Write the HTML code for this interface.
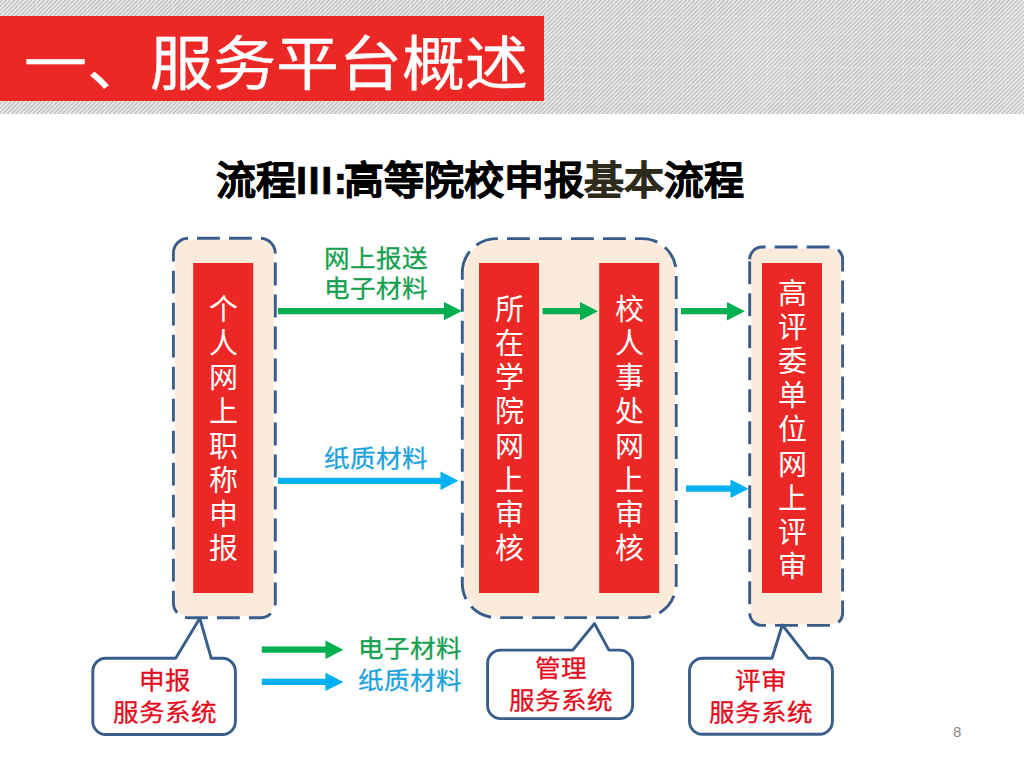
<!DOCTYPE html>
<html lang="zh-CN">
<head>
<meta charset="utf-8">
<style>
html,body{margin:0;padding:0;}
body{width:1024px;height:768px;position:relative;overflow:hidden;background:#fff;font-family:"Liberation Sans",sans-serif;}
.abs{position:absolute;}
#tbox{left:0;top:16px;width:544px;height:85px;background:#ec2826;}
#ttl{left:24px;top:26.5px;font-size:63px;line-height:80px;color:#fff;-webkit-text-stroke:0.4px #fff;white-space:nowrap;transform:scaleY(0.94);transform-origin:0 0;}
#sub{left:216px;-webkit-text-stroke:0.7px #000;transform:scaleY(0.96);transform-origin:0 48px;top:150px;font-size:40px;line-height:60px;font-weight:900;color:#000;white-space:nowrap;}
#sub .b{color:#2e2a1c;-webkit-text-stroke:0.7px #2e2a1c;}
#sub .i{letter-spacing:1.5px;}
#sub .c{letter-spacing:-3.5px;}
svg{position:absolute;left:0;top:0;}
.vt{position:absolute;top:263px;width:60px;height:330px;display:flex;flex-direction:column;justify-content:center;align-items:center;color:#fff;font-size:29px;padding-top:3px;box-sizing:border-box;}
.vt span{display:block;height:34.2px;line-height:34.2px;text-align:center;}
.lbl{position:absolute;-webkit-text-stroke:0.3px currentColor;font-size:25.6px;line-height:32.2px;transform:scaleY(0.93);transform-origin:0 0;white-space:nowrap;text-align:center;}
.g{color:#14a04e;}
.bl{color:#1ba2dc;}
.r{color:#e20c1c;line-height:34.2px;}
#pg{left:953px;top:723px;font-size:15px;color:#8a8a8a;}
</style>
</head>
<body>
<svg id="hdrsvg" width="1024" height="114" style="position:absolute;left:0;top:0"><rect width="1024" height="114" fill="#eaeaea"/><path d="M-124.75 114L-10.75 0M-120.50 114L-6.50 0M-116.25 114L-2.25 0M-112.00 114L2.00 0M-107.75 114L6.25 0M-103.50 114L10.50 0M-99.25 114L14.75 0M-95.00 114L19.00 0M-90.75 114L23.25 0M-86.50 114L27.50 0M-82.25 114L31.75 0M-78.00 114L36.00 0M-73.75 114L40.25 0M-69.50 114L44.50 0M-65.25 114L48.75 0M-61.00 114L53.00 0M-56.75 114L57.25 0M-52.50 114L61.50 0M-48.25 114L65.75 0M-44.00 114L70.00 0M-39.75 114L74.25 0M-35.50 114L78.50 0M-31.25 114L82.75 0M-27.00 114L87.00 0M-22.75 114L91.25 0M-18.50 114L95.50 0M-14.25 114L99.75 0M-10.00 114L104.00 0M-5.75 114L108.25 0M-1.50 114L112.50 0M2.75 114L116.75 0M7.00 114L121.00 0M11.25 114L125.25 0M15.50 114L129.50 0M19.75 114L133.75 0M24.00 114L138.00 0M28.25 114L142.25 0M32.50 114L146.50 0M36.75 114L150.75 0M41.00 114L155.00 0M45.25 114L159.25 0M49.50 114L163.50 0M53.75 114L167.75 0M58.00 114L172.00 0M62.25 114L176.25 0M66.50 114L180.50 0M70.75 114L184.75 0M75.00 114L189.00 0M79.25 114L193.25 0M83.50 114L197.50 0M87.75 114L201.75 0M92.00 114L206.00 0M96.25 114L210.25 0M100.50 114L214.50 0M104.75 114L218.75 0M109.00 114L223.00 0M113.25 114L227.25 0M117.50 114L231.50 0M121.75 114L235.75 0M126.00 114L240.00 0M130.25 114L244.25 0M134.50 114L248.50 0M138.75 114L252.75 0M143.00 114L257.00 0M147.25 114L261.25 0M151.50 114L265.50 0M155.75 114L269.75 0M160.00 114L274.00 0M164.25 114L278.25 0M168.50 114L282.50 0M172.75 114L286.75 0M177.00 114L291.00 0M181.25 114L295.25 0M185.50 114L299.50 0M189.75 114L303.75 0M194.00 114L308.00 0M198.25 114L312.25 0M202.50 114L316.50 0M206.75 114L320.75 0M211.00 114L325.00 0M215.25 114L329.25 0M219.50 114L333.50 0M223.75 114L337.75 0M228.00 114L342.00 0M232.25 114L346.25 0M236.50 114L350.50 0M240.75 114L354.75 0M245.00 114L359.00 0M249.25 114L363.25 0M253.50 114L367.50 0M257.75 114L371.75 0M262.00 114L376.00 0M266.25 114L380.25 0M270.50 114L384.50 0M274.75 114L388.75 0M279.00 114L393.00 0M283.25 114L397.25 0M287.50 114L401.50 0M291.75 114L405.75 0M296.00 114L410.00 0M300.25 114L414.25 0M304.50 114L418.50 0M308.75 114L422.75 0M313.00 114L427.00 0M317.25 114L431.25 0M321.50 114L435.50 0M325.75 114L439.75 0M330.00 114L444.00 0M334.25 114L448.25 0M338.50 114L452.50 0M342.75 114L456.75 0M347.00 114L461.00 0M351.25 114L465.25 0M355.50 114L469.50 0M359.75 114L473.75 0M364.00 114L478.00 0M368.25 114L482.25 0M372.50 114L486.50 0M376.75 114L490.75 0M381.00 114L495.00 0M385.25 114L499.25 0M389.50 114L503.50 0M393.75 114L507.75 0M398.00 114L512.00 0M402.25 114L516.25 0M406.50 114L520.50 0M410.75 114L524.75 0M415.00 114L529.00 0M419.25 114L533.25 0M423.50 114L537.50 0M427.75 114L541.75 0M432.00 114L546.00 0M436.25 114L550.25 0M440.50 114L554.50 0M444.75 114L558.75 0M449.00 114L563.00 0M453.25 114L567.25 0M457.50 114L571.50 0M461.75 114L575.75 0M466.00 114L580.00 0M470.25 114L584.25 0M474.50 114L588.50 0M478.75 114L592.75 0M483.00 114L597.00 0M487.25 114L601.25 0M491.50 114L605.50 0M495.75 114L609.75 0M500.00 114L614.00 0M504.25 114L618.25 0M508.50 114L622.50 0M512.75 114L626.75 0M517.00 114L631.00 0M521.25 114L635.25 0M525.50 114L639.50 0M529.75 114L643.75 0M534.00 114L648.00 0M538.25 114L652.25 0M542.50 114L656.50 0M546.75 114L660.75 0M551.00 114L665.00 0M555.25 114L669.25 0M559.50 114L673.50 0M563.75 114L677.75 0M568.00 114L682.00 0M572.25 114L686.25 0M576.50 114L690.50 0M580.75 114L694.75 0M585.00 114L699.00 0M589.25 114L703.25 0M593.50 114L707.50 0M597.75 114L711.75 0M602.00 114L716.00 0M606.25 114L720.25 0M610.50 114L724.50 0M614.75 114L728.75 0M619.00 114L733.00 0M623.25 114L737.25 0M627.50 114L741.50 0M631.75 114L745.75 0M636.00 114L750.00 0M640.25 114L754.25 0M644.50 114L758.50 0M648.75 114L762.75 0M653.00 114L767.00 0M657.25 114L771.25 0M661.50 114L775.50 0M665.75 114L779.75 0M670.00 114L784.00 0M674.25 114L788.25 0M678.50 114L792.50 0M682.75 114L796.75 0M687.00 114L801.00 0M691.25 114L805.25 0M695.50 114L809.50 0M699.75 114L813.75 0M704.00 114L818.00 0M708.25 114L822.25 0M712.50 114L826.50 0M716.75 114L830.75 0M721.00 114L835.00 0M725.25 114L839.25 0M729.50 114L843.50 0M733.75 114L847.75 0M738.00 114L852.00 0M742.25 114L856.25 0M746.50 114L860.50 0M750.75 114L864.75 0M755.00 114L869.00 0M759.25 114L873.25 0M763.50 114L877.50 0M767.75 114L881.75 0M772.00 114L886.00 0M776.25 114L890.25 0M780.50 114L894.50 0M784.75 114L898.75 0M789.00 114L903.00 0M793.25 114L907.25 0M797.50 114L911.50 0M801.75 114L915.75 0M806.00 114L920.00 0M810.25 114L924.25 0M814.50 114L928.50 0M818.75 114L932.75 0M823.00 114L937.00 0M827.25 114L941.25 0M831.50 114L945.50 0M835.75 114L949.75 0M840.00 114L954.00 0M844.25 114L958.25 0M848.50 114L962.50 0M852.75 114L966.75 0M857.00 114L971.00 0M861.25 114L975.25 0M865.50 114L979.50 0M869.75 114L983.75 0M874.00 114L988.00 0M878.25 114L992.25 0M882.50 114L996.50 0M886.75 114L1000.75 0M891.00 114L1005.00 0M895.25 114L1009.25 0M899.50 114L1013.50 0M903.75 114L1017.75 0M908.00 114L1022.00 0M912.25 114L1026.25 0M916.50 114L1030.50 0M920.75 114L1034.75 0M925.00 114L1039.00 0M929.25 114L1043.25 0M933.50 114L1047.50 0M937.75 114L1051.75 0M942.00 114L1056.00 0M946.25 114L1060.25 0M950.50 114L1064.50 0M954.75 114L1068.75 0M959.00 114L1073.00 0M963.25 114L1077.25 0M967.50 114L1081.50 0M971.75 114L1085.75 0M976.00 114L1090.00 0M980.25 114L1094.25 0M984.50 114L1098.50 0M988.75 114L1102.75 0M993.00 114L1107.00 0M997.25 114L1111.25 0M1001.50 114L1115.50 0M1005.75 114L1119.75 0M1010.00 114L1124.00 0M1014.25 114L1128.25 0M1018.50 114L1132.50 0M1022.75 114L1136.75 0M1027.00 114L1141.00 0" stroke="#bbbbbb" stroke-width="1.2" fill="none"/><path d="M2.5 0V114M19.5 0V114M36.5 0V114M53.5 0V114M70.5 0V114M87.5 0V114M104.5 0V114M121.5 0V114M138.5 0V114M155.5 0V114M172.5 0V114M189.5 0V114M206.5 0V114M223.5 0V114M240.5 0V114M257.5 0V114M274.5 0V114M291.5 0V114M308.5 0V114M325.5 0V114M342.5 0V114M359.5 0V114M376.5 0V114M393.5 0V114M410.5 0V114M427.5 0V114M444.5 0V114M461.5 0V114M478.5 0V114M495.5 0V114M512.5 0V114M529.5 0V114M546.5 0V114M563.5 0V114M580.5 0V114M597.5 0V114M614.5 0V114M631.5 0V114M648.5 0V114M665.5 0V114M682.5 0V114M699.5 0V114M716.5 0V114M733.5 0V114M750.5 0V114M767.5 0V114M784.5 0V114M801.5 0V114M818.5 0V114M835.5 0V114M852.5 0V114M869.5 0V114M886.5 0V114M903.5 0V114M920.5 0V114M937.5 0V114M954.5 0V114M971.5 0V114M988.5 0V114M1005.5 0V114M1022.5 0V114M0 16.5H1024M0 33.5H1024M0 50.5H1024M0 67.5H1024M0 84.5H1024M0 101.5H1024" stroke="#f6f6f6" stroke-opacity="0.2" stroke-width="1" fill="none"/></svg>
<div id="tbox" class="abs"></div>
<div id="ttl" class="abs">一、服务平台概述</div>
<div id="sub" class="abs">流程<span class="i">III</span><span class="c">:</span>高等院校申报<span class="b">基本</span>流程</div>

<svg id="diag" width="1024" height="768" viewBox="0 0 1024 768">
  <g fill="#fceadb">
    <path d="M174.85 253.30 A13.55 13.55 0 0 1 188.40 239.75 H260.30 A13.55 13.55 0 0 1 273.85 253.30 V602.70 A13.55 13.55 0 0 1 260.30 616.25 H188.40 A13.55 13.55 0 0 1 174.85 602.70 Z"/>
    <path d="M463.75 272.60 A32.55 32.55 0 0 1 496.30 240.05 H642.20 A32.55 32.55 0 0 1 674.75 272.60 V583.60 A32.55 32.55 0 0 1 642.20 616.15 H496.30 A32.55 32.55 0 0 1 463.75 583.60 Z"/>
    <path d="M751.15 259.50 A11.05 11.05 0 0 1 762.20 248.45 H830.10 A11.05 11.05 0 0 1 841.15 259.50 V612.90 A11.05 11.05 0 0 1 830.10 623.95 H762.20 A11.05 11.05 0 0 1 751.15 612.90 Z"/>
  </g>
  <g fill="none" stroke="#385d8a" stroke-width="2.9" stroke-dasharray="22.9 9.1">
    <path d="M173.40 253.30 A15.00 15.00 0 0 1 188.40 238.30 H260.30 A15.00 15.00 0 0 1 275.30 253.30 V602.70 A15.00 15.00 0 0 1 260.30 617.70 H188.40 A15.00 15.00 0 0 1 173.40 602.70 Z"/>
    <path d="M462.30 272.60 A34.00 34.00 0 0 1 496.30 238.60 H642.20 A34.00 34.00 0 0 1 676.20 272.60 V583.60 A34.00 34.00 0 0 1 642.20 617.60 H496.30 A34.00 34.00 0 0 1 462.30 583.60 Z"/>
    <path d="M749.70 259.50 A12.50 12.50 0 0 1 762.20 247.00 H830.10 A12.50 12.50 0 0 1 842.60 259.50 V612.90 A12.50 12.50 0 0 1 830.10 625.40 H762.20 A12.50 12.50 0 0 1 749.70 612.90 Z"/>
  </g>
  <g fill="#ec2826">
    <rect x="193.2" y="263" width="60" height="330"/>
    <rect x="479" y="263" width="60" height="330"/>
    <rect x="599.2" y="263" width="60" height="330"/>
    <rect x="762" y="263" width="60" height="330"/>
  </g>
  <g fill="#00b050">
    <path d="M278.00 308.00 H444.00 V301.90 L462.00 311.10 L444.00 320.30 V314.20 H278.00 Z"/>
    <path d="M542.60 308.10 H580.00 V302.00 L598.00 311.20 L580.00 320.40 V314.30 H542.60 Z"/>
    <path d="M681.00 308.10 H727.00 V302.00 L745.00 311.20 L727.00 320.40 V314.30 H681.00 Z"/>
    <path d="M261.80 646.60 H325.40 V640.50 L343.40 649.70 L325.40 658.90 V652.80 H261.80 Z"/>
  </g>
  <g fill="#00b0f0">
    <path d="M278.00 477.70 H440.50 V471.60 L458.50 480.80 L440.50 490.00 V483.90 H278.00 Z"/>
    <path d="M686.00 485.60 H730.50 V479.50 L748.50 488.70 L730.50 497.90 V491.80 H686.00 Z"/>
    <path d="M261.80 678.80 H325.40 V672.70 L343.40 681.90 L325.40 691.10 V685.00 H261.80 Z"/>
  </g>
  <g fill="#fff" stroke="#385d8a" stroke-width="2.9" stroke-linejoin="round">
    <path d="M105.80 658.30 H175.70 L199.80 618.30 L211.30 658.30 H222.40 A13 13 0 0 1 235.40 671.30 V721.50 A13 13 0 0 1 222.40 734.50 H105.80 A13 13 0 0 1 92.80 721.50 V671.30 A13 13 0 0 1 105.80 658.30 Z"/>
    <path d="M500.60 650.10 H572.80 L594.50 623.50 L608.90 650.10 H619.60 A13 13 0 0 1 632.60 663.10 V705.60 A13 13 0 0 1 619.60 718.60 H500.60 A13 13 0 0 1 487.60 705.60 V663.10 A13 13 0 0 1 500.60 650.10 Z"/>
    <path d="M702.50 658.20 H772.00 L782.30 625.00 L808.20 658.20 H819.40 A13 13 0 0 1 832.40 671.20 V721.30 A13 13 0 0 1 819.40 734.30 H702.50 A13 13 0 0 1 689.50 721.30 V671.20 A13 13 0 0 1 702.50 658.20 Z"/>
  </g>
</svg>

<div class="vt" style="left:193.2px"><span>个</span><span>人</span><span>网</span><span>上</span><span>职</span><span>称</span><span>申</span><span>报</span></div>
<div class="vt" style="left:479px"><span>所</span><span>在</span><span>学</span><span>院</span><span>网</span><span>上</span><span>审</span><span>核</span></div>
<div class="vt" style="left:599.2px"><span>校</span><span>人</span><span>事</span><span>处</span><span>网</span><span>上</span><span>审</span><span>核</span></div>
<div class="vt" style="left:762px;padding-top:5px"><span>高</span><span>评</span><span>委</span><span>单</span><span>位</span><span>网</span><span>上</span><span>评</span><span>审</span></div>

<div class="lbl g" style="left:324px;top:244px;">网上报送<br>电子材料</div>
<div class="lbl bl" style="left:323.5px;top:444px;">纸质材料</div>
<div class="lbl g" style="left:357.5px;top:634px;">电子材料</div>
<div class="lbl bl" style="left:358px;top:666px;">纸质材料</div>

<div class="lbl r" style="left:93.3px;width:142.6px;top:665.4px;">申报<br>服务系统</div>
<div class="lbl r" style="left:488.6px;width:145px;top:653px;">管理<br>服务系统</div>
<div class="lbl r" style="left:689.5px;width:143px;top:665.4px;">评审<br>服务系统</div>

<div id="pg" class="abs">8</div>
</body>
</html>
